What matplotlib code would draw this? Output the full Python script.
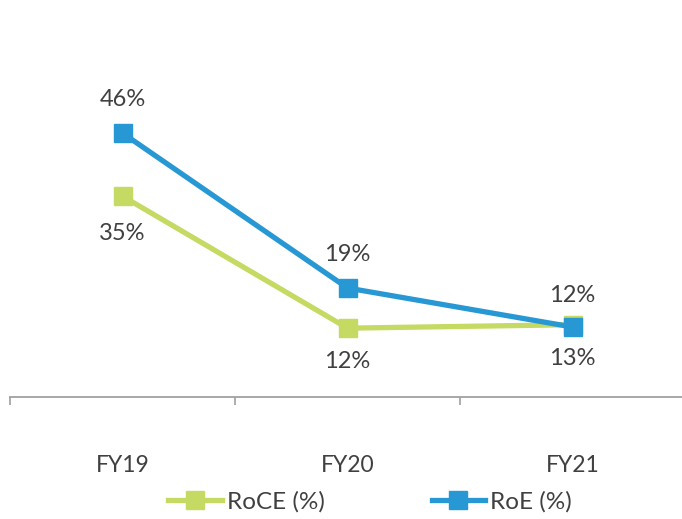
import matplotlib.pyplot as plt
from matplotlib.ticker import FixedLocator

plt.rcParams['font.family'] = ['Lato', 'DejaVu Sans']

years = ['FY19', 'FY20', 'FY21']
roce = [35, 12, 12.6]
roe = [46, 19, 12.2]
roce_labels = ['35%', '12%', '12%']
roe_labels = ['46%', '19%', '13%']

green = '#C5DA63'
blue = '#2898D5'
txt = '#404040'

fig = plt.figure(figsize=(6.82, 5.19), dpi=100)
ax = fig.add_axes([10 / 682, 1 - 397 / 519, 675 / 682, 397 / 519])

x = list(range(len(years)))
ax.plot(x, roce, color=green, lw=3.8, marker='s', ms=13, label='RoCE (%)', zorder=3)
ax.plot(x, roe, color=blue, lw=3.8, marker='s', ms=13, label='RoE (%)', zorder=4)

# label offsets (points): above / below the marker
roce_off = [-27, -24, 21]
roe_off = [24, 24, -23]
for i in x:
    ax.annotate(roce_labels[i], (i, roce[i]), xytext=(0, roce_off[i]), textcoords='offset points',
                ha='center', va='center', fontsize=17, color=txt)
    ax.annotate(roe_labels[i], (i, roe[i]), xytext=(0, roe_off[i]), textcoords='offset points',
                ha='center', va='center', fontsize=17, color=txt)

ax.set_xlim(-0.5, 2.5)
ax.set_ylim(0, 69.2)
for s in ['top', 'right', 'left']:
    ax.spines[s].set_visible(False)
ax.spines['bottom'].set_color('#A0A0A0')
ax.spines['bottom'].set_linewidth(1.3)
ax.set_yticks([])

ax.set_xticks(x)
ax.set_xticklabels(years, fontsize=16.5, color=txt)
ax.tick_params(axis='x', which='major', length=0, pad=42)
ax.xaxis.set_minor_locator(FixedLocator([-0.5, 0.5, 1.5, 2.5]))
ax.tick_params(axis='x', which='minor', length=6, width=1.2, color='#A0A0A0', direction='out')

fig.legend(loc='center', bbox_to_anchor=(370 / 682, 1 - 502 / 519), ncol=2, frameon=False,
           fontsize=17.5, handlelength=2.2, columnspacing=4.4, handletextpad=0.2,
           labelcolor=txt)

fig.savefig('out.png', dpi=100)
